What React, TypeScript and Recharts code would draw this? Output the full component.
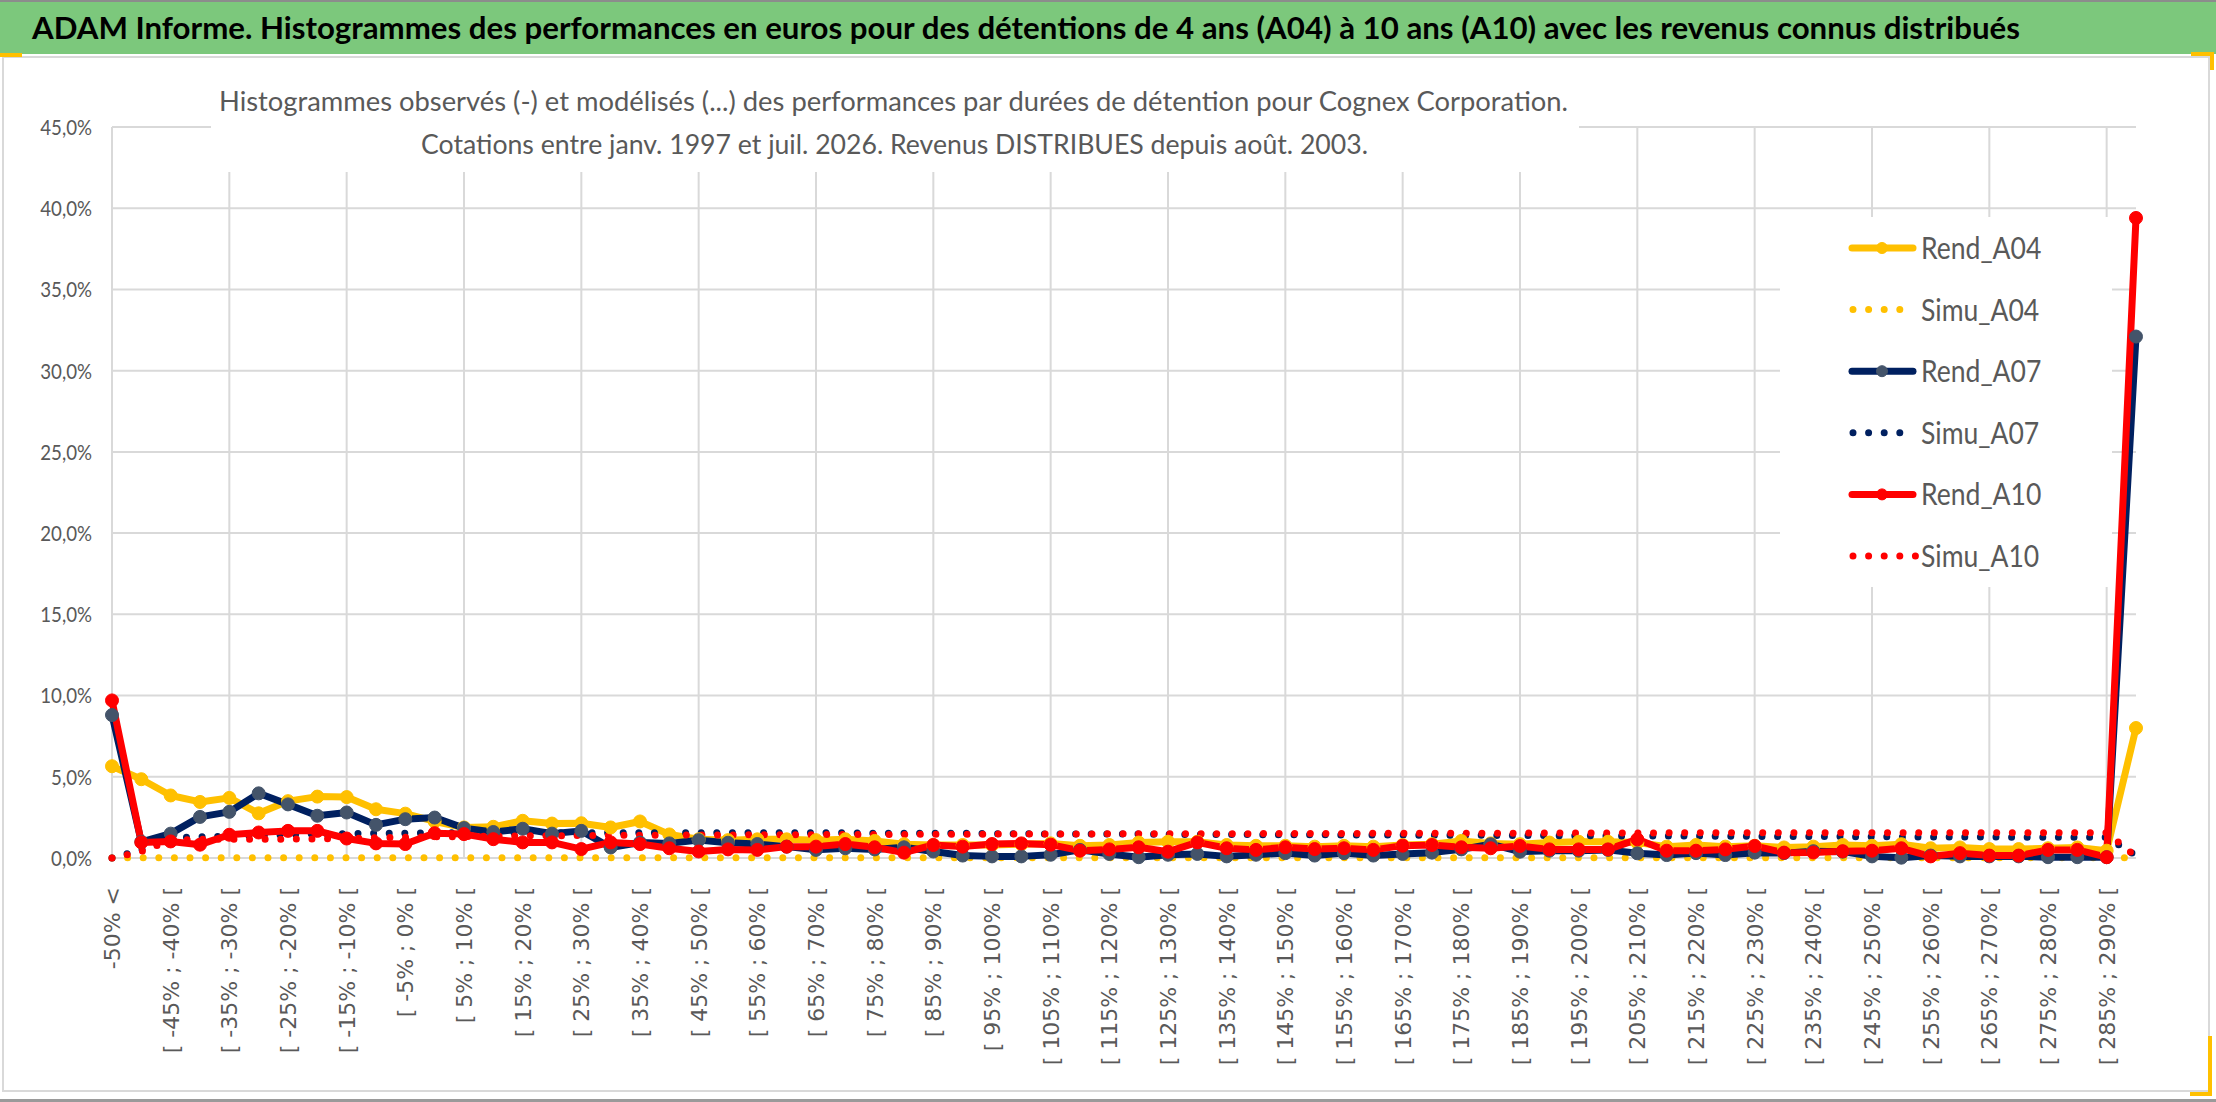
import React from 'react';
import { LineChart, Line, XAxis, YAxis, CartesianGrid, Legend } from 'recharts';

const categories = [
  '-50% <',
  '[ -50% ; -45% [', '[ -45% ; -40% [', '[ -40% ; -35% [', '[ -35% ; -30% [', '[ -30% ; -25% [',
  '[ -25% ; -20% [', '[ -20% ; -15% [', '[ -15% ; -10% [', '[ -10% ; -5% [', '[ -5% ; 0% [',
  '[ 0% ; 5% [', '[ 5% ; 10% [', '[ 10% ; 15% [', '[ 15% ; 20% [', '[ 20% ; 25% [',
  '[ 25% ; 30% [', '[ 30% ; 35% [', '[ 35% ; 40% [', '[ 40% ; 45% [', '[ 45% ; 50% [',
  '[ 50% ; 55% [', '[ 55% ; 60% [', '[ 60% ; 65% [', '[ 65% ; 70% [', '[ 70% ; 75% [',
  '[ 75% ; 80% [', '[ 80% ; 85% [', '[ 85% ; 90% [', '[ 90% ; 95% [', '[ 95% ; 100% [',
  '[ 100% ; 105% [', '[ 105% ; 110% [', '[ 110% ; 115% [', '[ 115% ; 120% [', '[ 120% ; 125% [',
  '[ 125% ; 130% [', '[ 130% ; 135% [', '[ 135% ; 140% [', '[ 140% ; 145% [', '[ 145% ; 150% [',
  '[ 150% ; 155% [', '[ 155% ; 160% [', '[ 160% ; 165% [', '[ 165% ; 170% [', '[ 170% ; 175% [',
  '[ 175% ; 180% [', '[ 180% ; 185% [', '[ 185% ; 190% [', '[ 190% ; 195% [', '[ 195% ; 200% [',
  '[ 200% ; 205% [', '[ 205% ; 210% [', '[ 210% ; 215% [', '[ 215% ; 220% [', '[ 220% ; 225% [',
  '[ 225% ; 230% [', '[ 230% ; 235% [', '[ 235% ; 240% [', '[ 240% ; 245% [', '[ 245% ; 250% [',
  '[ 250% ; 255% [', '[ 255% ; 260% [', '[ 260% ; 265% [', '[ 265% ; 270% [', '[ 270% ; 275% [',
  '[ 275% ; 280% [', '[ 280% ; 285% [', '[ 285% ; 290% [',
  '> 290%',
];

const rendA04 = [
  5.65, 4.85, 3.85, 3.45, 3.7, 2.75, 3.5, 3.78, 3.75, 3.0,
  2.73, 2.25, 1.88, 1.92, 2.29, 2.12, 2.14, 1.88, 2.25, 1.45,
  1.15, 1.1, 1.15, 1.15, 1.1, 1.15, 1.05, 0.85, 0.8, 0.8,
  0.8, 0.85, 0.9, 0.75, 0.8, 0.95, 1.0, 1.0, 0.8, 0.75,
  0.75, 0.7, 0.75, 0.7, 0.8, 0.85, 1.05, 0.9, 0.85, 0.95,
  1.0, 1.0, 0.95, 0.7, 0.8, 0.7, 0.75, 0.65, 0.7, 0.8,
  0.75, 0.85, 0.6, 0.65, 0.55, 0.55, 0.6, 0.65, 0.45, 8.0,
];

const simuA04 = [
  0.0, 0.02, 0.02, 0.02, 0.02, 0.02, 0.02, 0.02, 0.02, 0.02,
  0.02, 0.02, 0.02, 0.02, 0.02, 0.02, 0.02, 0.02, 0.02, 0.02,
  0.02, 0.02, 0.02, 0.02, 0.02, 0.02, 0.02, 0.02, 0.02, 0.02,
  0.02, 0.02, 0.02, 0.02, 0.02, 0.02, 0.02, 0.02, 0.02, 0.02,
  0.02, 0.02, 0.02, 0.02, 0.02, 0.02, 0.02, 0.02, 0.02, 0.02,
  0.02, 0.02, 0.02, 0.02, 0.02, 0.02, 0.02, 0.02, 0.02, 0.02,
  0.02, 0.02, 0.02, 0.02, 0.02, 0.02, 0.02, 0.02, 0.02, 0.0,
];

const rendA07 = [
  8.8, 1.0, 1.5, 2.53, 2.84, 3.98, 3.3, 2.6, 2.8, 2.04,
  2.39, 2.49, 1.84, 1.6, 1.8, 1.5, 1.67, 0.65, 0.95, 0.9,
  1.1, 0.94, 0.86, 0.7, 0.5, 0.6, 0.53, 0.66, 0.4, 0.15,
  0.1, 0.1, 0.2, 0.5, 0.25, 0.05, 0.2, 0.25, 0.1, 0.2,
  0.3, 0.15, 0.3, 0.15, 0.25, 0.33, 0.53, 0.85, 0.39, 0.45,
  0.45, 0.5, 0.29, 0.18, 0.3, 0.18, 0.33, 0.3, 0.42, 0.39,
  0.1, 0.02, 0.15, 0.1, 0.1, 0.1, 0.05, 0.05, 0.05, 32.1,
];

const simuA07 = [
  0.0, 0.5, 1.25, 1.3, 1.35, 1.4, 1.45, 1.5, 1.5, 1.52,
  1.53, 1.55, 1.55, 1.55, 1.55, 1.55, 1.55, 1.55, 1.55, 1.55,
  1.55, 1.55, 1.55, 1.55, 1.55, 1.55, 1.53, 1.53, 1.52, 1.52,
  1.5, 1.5, 1.48, 1.48, 1.47, 1.47, 1.46, 1.45, 1.45, 1.44,
  1.43, 1.43, 1.42, 1.42, 1.41, 1.4, 1.4, 1.39, 1.38, 1.38,
  1.37, 1.36, 1.36, 1.35, 1.35, 1.34, 1.33, 1.33, 1.32, 1.32,
  1.31, 1.3, 1.3, 1.29, 1.29, 1.28, 1.28, 1.27, 1.27, 0.15,
];

const rendA10 = [
  9.7, 0.96, 1.02, 0.82, 1.43, 1.57, 1.67, 1.67, 1.2, 0.9,
  0.86, 1.53, 1.47, 1.16, 0.96, 0.96, 0.55, 0.96, 0.86, 0.6,
  0.4, 0.53, 0.5, 0.7, 0.7, 0.86, 0.66, 0.33, 0.8, 0.7,
  0.86, 0.9, 0.82, 0.45, 0.53, 0.66, 0.39, 0.96, 0.6, 0.5,
  0.66, 0.55, 0.6, 0.5, 0.76, 0.8, 0.66, 0.6, 0.74, 0.53,
  0.53, 0.53, 1.15, 0.45, 0.45, 0.53, 0.74, 0.33, 0.34, 0.42,
  0.45, 0.6, 0.1, 0.3, 0.15, 0.15, 0.5, 0.5, 0.05, 39.4,
];

const simuA10 = [
  0.0, 0.4, 1.1, 1.15, 1.15, 1.15, 1.16, 1.18, 1.2, 1.25,
  1.28, 1.3, 1.32, 1.34, 1.36, 1.37, 1.38, 1.39, 1.4, 1.41,
  1.42, 1.42, 1.43, 1.43, 1.44, 1.44, 1.45, 1.45, 1.46, 1.46,
  1.47, 1.47, 1.48, 1.48, 1.49, 1.49, 1.5, 1.5, 1.5, 1.5,
  1.51, 1.51, 1.51, 1.52, 1.52, 1.52, 1.53, 1.53, 1.53, 1.54,
  1.54, 1.54, 1.54, 1.55, 1.55, 1.55, 1.55, 1.55, 1.55, 1.55,
  1.55, 1.55, 1.55, 1.55, 1.55, 1.55, 1.55, 1.55, 1.55, 0.1,
];

const yTicks = [0, 5, 10, 15, 20, 25, 30, 35, 40, 45];
const labelCats = categories.filter((_, i) => i % 2 === 0 && i < 69);
const gridCats = categories.filter((_, i) => i % 4 === 0);

const TITLE = 'ADAM Informe. Histogrammes des performances en euros pour des détentions de 4 ans (A04) à 10 ans (A10) avec les revenus connus distribués';
const SUB1 = 'Histogrammes observés (-) et modélisés (...) des performances par durées de détention pour Cognex Corporation.';
const SUB2 = 'Cotations entre janv. 1997 et juil. 2026. Revenus DISTRIBUES depuis août. 2003.';

const data = categories.map((cat, i) => ({
  cat,
  Rend_A04: rendA04[i],
  Simu_A04: simuA04[i],
  Rend_A07: rendA07[i],
  Simu_A07: simuA07[i],
  Rend_A10: rendA10[i],
  Simu_A10: simuA10[i],
}));

const YELLOW = '#FFC000';
const NAVY = '#002060';
const RED = '#FF0000';
const SLATE = '#44546A';

const series = [
  { key: 'Rend_A04', color: YELLOW, marker: YELLOW, dotted: false },
  { key: 'Simu_A04', color: YELLOW, marker: YELLOW, dotted: true },
  { key: 'Rend_A07', color: NAVY, marker: SLATE, dotted: false },
  { key: 'Simu_A07', color: NAVY, marker: NAVY, dotted: true },
  { key: 'Rend_A10', color: RED, marker: RED, dotted: false },
  { key: 'Simu_A10', color: RED, marker: RED, dotted: true },
];

const SANS = "Lato, 'Open Sans', sans-serif";
const GREY_TEXT = '#595959';

const XTick = (props: any) => {
  const { x, y, payload } = props;
  return (
    <text
      x={x}
      y={y}
      transform={`rotate(-90 ${x} ${y})`}
      textAnchor="end"
      dy="0.36em"
      fontSize={22}
      fontFamily="'DejaVu Sans', sans-serif"
      fill={GREY_TEXT}
    >
      {payload.value}
    </text>
  );
};

const YTick = (props: any) => {
  const { x, y, payload } = props;
  const label = `${Number(payload.value).toFixed(1).replace('.', ',')}%`;
  return (
    <g transform={`translate(${x} ${y}) scale(0.85 1)`}>
      <text x={0} y={0} dy="0.36em" textAnchor="end" fontSize={22} fontFamily={SANS} fill={GREY_TEXT}>
        {label}
      </text>
    </g>
  );
};

const LegendContent = () => (
  <svg width={332} height={370} style={{ display: 'block', background: '#fff' }}>
    <rect x={0} y={0} width={332} height={370} fill="#fff" />
    {series.map((s, i) => {
      const cy = 31 + i * 61.6;
      return (
        <g key={s.key}>
          {s.dotted ? (
            <line x1={73} y1={cy} x2={s.color === RED ? 136 : 122} y2={cy} stroke={s.color} strokeWidth={7}
              strokeDasharray="0 15.6" strokeLinecap="round" />
          ) : (
            <>
              <line x1={72} y1={cy} x2={133} y2={cy} stroke={s.color} strokeWidth={7} strokeLinecap="round" />
              <circle cx={102} cy={cy} r={5.5} fill={s.marker} stroke={s.marker} />
            </>
          )}
          <g transform={`translate(141 ${cy + 11}) scale(0.87 1)`}>
            <text x={0} y={0} fontSize={30.5} fontFamily={SANS} fill={GREY_TEXT}>{s.key}</text>
          </g>
        </g>
      );
    })}
  </svg>
);

export default function App() {
  const W = 2216;
  const H = 1102;
  return (
    <div style={{ position: 'absolute', left: 0, top: 0, width: W, height: H, background: '#fff', overflow: 'hidden', fontFamily: SANS }}>
      {/* title bar */}
      <div style={{ position: 'absolute', left: 0, top: 0, width: W, height: 54, background: '#7cc87c', borderTop: '2px solid #8c8c8c', boxSizing: 'border-box' }} />
      <svg width={W} height={56} style={{ position: 'absolute', left: 0, top: 0 }}>
        <text x={32} y={39} fontSize={31} fontWeight={700} fontFamily={SANS} fill="#000"
          textLength={1988} lengthAdjust="spacingAndGlyphs">
          {TITLE}
        </text>
      </svg>
      {/* chart area border */}
      <div style={{ position: 'absolute', left: 2, top: 56, width: 2208, height: 1036, border: '2px solid #d9d9d9', boxSizing: 'border-box' }} />
      <div style={{ position: 'absolute', left: 0, top: 1099, width: W, height: 3, background: '#9a9a9a' }} />
      <div style={{ position: 'absolute', left: 0, top: 53, width: 22, height: 4, background: YELLOW }} />
      <div style={{ position: 'absolute', left: 2191, top: 52, width: 23, height: 4, background: YELLOW }} />
      <div style={{ position: 'absolute', left: 2210, top: 52, width: 4, height: 18, background: YELLOW }} />
      <div style={{ position: 'absolute', left: 2208, top: 1036, width: 4, height: 60, background: YELLOW }} />
      <div style={{ position: 'absolute', left: 2190, top: 1092, width: 22, height: 4, background: YELLOW }} />

      <div style={{ position: 'absolute', left: 0, top: 0 }}>
        <LineChart width={W} height={H} data={data} margin={{ top: 127, right: 80, bottom: 14, left: 12 }}>
          <CartesianGrid xAxisId="grid" stroke="#d9d9d9" strokeWidth={2} syncWithTicks={true} />
          <XAxis
            dataKey="cat"
            interval={0}
            ticks={labelCats}
            height={230}
            tickLine={false}
            axisLine={false}
            tickSize={0}
            tickMargin={29}
            tick={<XTick />}
          />
          <XAxis xAxisId="grid" dataKey="cat" hide interval={0} ticks={gridCats} />
          <YAxis
            domain={[0, 45]}
            ticks={yTicks}
            interval={0}
            width={100}
            tickLine={false}
            axisLine={false}
            tickSize={0}
            tickMargin={20}
            tick={<YTick />}
          />
          {series.map((s) =>
            s.dotted ? (
              <Line
                key={s.key}
                type="linear"
                dataKey={s.key}
                stroke={s.color}
                strokeWidth={7}
                strokeDasharray="0 15.6"
                strokeLinecap="round"
                dot={false}
                activeDot={false}
                isAnimationActive={false}
              />
            ) : (
              <Line
                key={s.key}
                type="linear"
                dataKey={s.key}
                stroke={s.color}
                strokeWidth={7}
                strokeLinejoin="round"
                dot={{ r: 6.5, fill: s.marker, stroke: s.marker, strokeWidth: 1 }}
                activeDot={false}
                isAnimationActive={false}
              />
            )
          )}
          <Legend
            layout="vertical"
            align="center"
            verticalAlign="middle"
            content={<LegendContent />}
            wrapperStyle={{ left: 1780, top: 217, width: 332, height: 370 }}
          />
        </LineChart>
      </div>

      {/* subtitle box */}
      <div style={{ position: 'absolute', left: 211, top: 82, width: 1368, height: 90, background: '#fff' }}>
        <svg width={1368} height={90} style={{ display: 'block' }}>
          <text x={8} y={29} fontSize={26} fontFamily={SANS} fill={GREY_TEXT} textLength={1349} lengthAdjust="spacingAndGlyphs">
            {SUB1}
          </text>
          <text x={210} y={72} fontSize={26} fontFamily={SANS} fill={GREY_TEXT} textLength={947} lengthAdjust="spacingAndGlyphs">
            {SUB2}
          </text>
        </svg>
      </div>
    </div>
  );
}
